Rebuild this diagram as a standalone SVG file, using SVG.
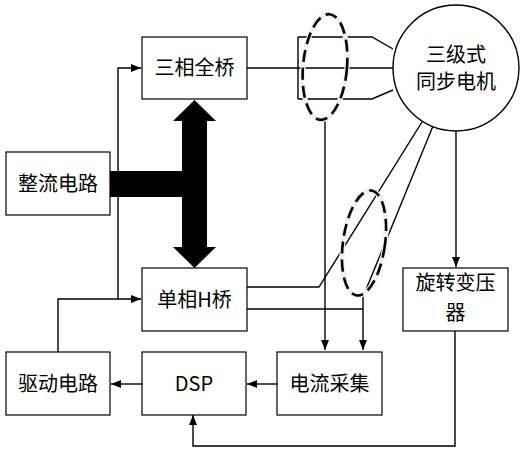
<svg xmlns="http://www.w3.org/2000/svg" width="524" height="450" viewBox="0 0 524 450">
<defs>
<marker id="ah" markerWidth="10" markerHeight="8" refX="10" refY="4" orient="auto" markerUnits="userSpaceOnUse">
<path d="M0,0 L10,4 L0,8 z" fill="#000"/>
</marker>
<style>
.box{fill:#fff;stroke:#000;stroke-width:1.2}
.t{font-family:"Noto Sans CJK SC","Noto Sans",sans-serif;font-size:20px;fill:#000;text-anchor:middle}
.w{fill:none;stroke:#000;stroke-width:1.4}
.a{fill:none;stroke:#000;stroke-width:1.4;marker-end:url(#ah)}
.halo{fill:none;stroke:#f0f0f0;stroke-width:5}
.dash{fill:none;stroke:#000;stroke-width:2.6;stroke-dasharray:12 6}
</style>
</defs>
<rect width="524" height="450" fill="#fff"/>
<g id="connectors">
<path class="w" d="M298,37 H372 L393,49 M247,68 H393 M298,99 H372 L393,90 M298,37 V99"/>
<path class="a" d="M325,121 V350"/>
<path class="w" d="M247,287 H319 L422,122"/>
<path class="a" d="M433,126 L363,297 V350"/>
<path class="w" d="M235,309 H363"/>
<path class="a" d="M456,131 V267"/>
<path class="a" d="M455,331 V446 H193 V415"/>
<path class="a" d="M277,384 H247"/>
<path class="a" d="M142,384 H111"/>
<path class="a" d="M58,352 V299 H141"/>
<path class="a" d="M118,299 V68 H141"/>
<polygon points="194.5,100 216,121 207,121 207,247 216,247 194.5,268 173,247 182,247 182,197 110,197 110,171 182,171 182,121 173,121" fill="#000"/>
<g transform="rotate(5 325 67)"><ellipse class="halo" cx="325" cy="67" rx="22" ry="53"/><ellipse class="dash" cx="325" cy="67" rx="22" ry="53"/></g>
<g transform="rotate(8 364 243)"><ellipse class="halo" cx="364" cy="243" rx="21" ry="53"/><ellipse class="dash" cx="364" cy="243" rx="21" ry="53"/></g>
</g>
<g id="sanxiang"><rect class="box" x="142" y="37" width="105" height="62"/><text class="t" x="194.5" y="75">三相全桥</text></g>
<g id="zhengliu"><rect class="box" x="6" y="152" width="104" height="63"/><text class="t" x="58" y="191">整流电路</text></g>
<g id="danxiang"><rect class="box" x="142" y="268" width="105" height="63"/><text class="t" x="194.5" y="307">单相H桥</text></g>
<g id="motor"><circle cx="456" cy="68" r="63" fill="#fff" stroke="#000" stroke-width="1.4"/><text class="t" x="456" y="62">三级式</text><text class="t" x="456" y="89">同步电机</text></g>
<g id="resolver"><rect class="box" x="403" y="268" width="105" height="63"/><text class="t" x="455.5" y="290">旋转变压</text><text class="t" x="455.5" y="320">器</text></g>
<g id="qudong"><rect class="box" x="6" y="352" width="104" height="63"/><text class="t" x="58" y="391">驱动电路</text></g>
<g id="dsp"><rect class="box" x="142" y="352" width="104" height="63"/><text class="t" x="194" y="391">DSP</text></g>
<g id="dianliu"><rect class="box" x="277" y="352" width="105" height="63"/><text class="t" x="329.5" y="391">电流采集</text></g>
</svg>
